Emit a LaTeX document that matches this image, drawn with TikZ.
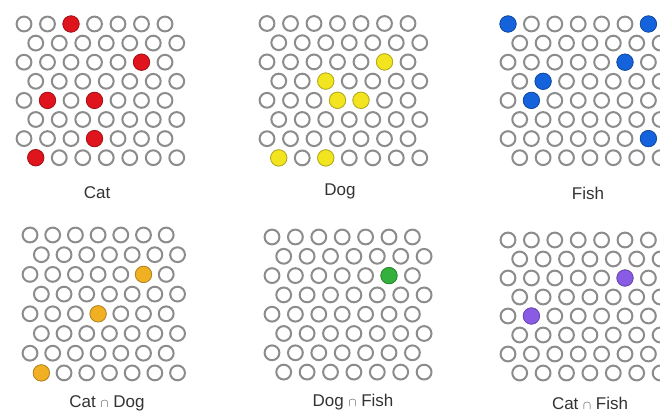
\documentclass[tikz,border=0pt]{standalone}
\usepackage{fontspec}
\setmainfont{Liberation Sans}
\definecolor{ringgray}{HTML}{8C8C8C}
\definecolor{labelgray}{HTML}{333333}
\definecolor{catred}{HTML}{E0141C}
\definecolor{dogyellow}{HTML}{F2E41E}
\definecolor{fishblue}{HTML}{1462DC}
\definecolor{cdorange}{HTML}{F0B022}
\definecolor{dfgreen}{HTML}{34B03C}
\definecolor{cfpurple}{HTML}{8A5CE6}
\tikzset{
  ring/.style={draw=ringgray, line width=2pt, fill=white},
  lbl/.style={text=labelgray, font=\fontsize{17}{19}\selectfont, inner sep=0pt}
}
% #1 x0, #2 y0, #3 dx, #4 dy, #5 colour, #6 list of row/col
\newcommand\gridpanel[6]{%
  \foreach \r in {0,...,7}{%
    \foreach \c in {0,...,6}{%
      \pgfmathsetmacro\xx{#1+\c*#3+mod(\r,2)*#3/2}%
      \pgfmathsetmacro\yy{#2+\r*#4}%
      \draw[ring] (\xx,\yy) circle[radius=7.4pt];
    }%
  }%
  \foreach \r/\c in {#6}{%
    \pgfmathsetmacro\xx{#1+\c*#3+mod(\r,2)*#3/2}%
    \pgfmathsetmacro\yy{#2+\r*#4}%
    \fill[#5, draw=#5!75!black, line width=0.8pt] (\xx,\yy) circle[radius=8.2pt];
  }%
}
\begin{document}
\begin{tikzpicture}[x=1pt,y=-1pt]
\useasboundingbox (0,0) rectangle (660,419);
\fill[white] (0,0) rectangle (660,419);
\clip (0,0) rectangle (660,419);
% top row
\gridpanel{24}{24}{23.5}{19.1}{catred}{0/2,2/5,4/1,4/3,6/3,7/0}
\gridpanel{267}{23.5}{23.5}{19.2}{dogyellow}{2/5,3/2,4/3,4/4,7/0,7/2}
\gridpanel{508}{24}{23.4}{19.1}{fishblue}{0/0,0/6,2/5,3/1,4/1,6/6}
% bottom row
\gridpanel{30}{235}{22.7}{19.7}{cdorange}{2/5,4/3,7/0}
\gridpanel{272}{237}{23.4}{19.3}{dfgreen}{2/5}
\gridpanel{508}{240}{23.4}{19}{cfpurple}{2/5,4/1}
% labels
\node[lbl] (catlbl) at (97,193) {Cat};
\node[lbl] (doglbl) at (340,191) {Dog};
\node[lbl] (fishlbl) at (588,193) {Fish};
\node[lbl] (cdlbl) at (107,403) {Cat {\fontsize{12}{14}\selectfont$\cap$} Dog};
\node[lbl] (dflbl) at (353,402) {Dog {\fontsize{12}{14}\selectfont$\cap$} Fish};
\node[lbl] (cflbl) at (590,403) {Cat {\fontsize{12}{14}\selectfont$\cap$} Fish};
\end{tikzpicture}
\end{document}
